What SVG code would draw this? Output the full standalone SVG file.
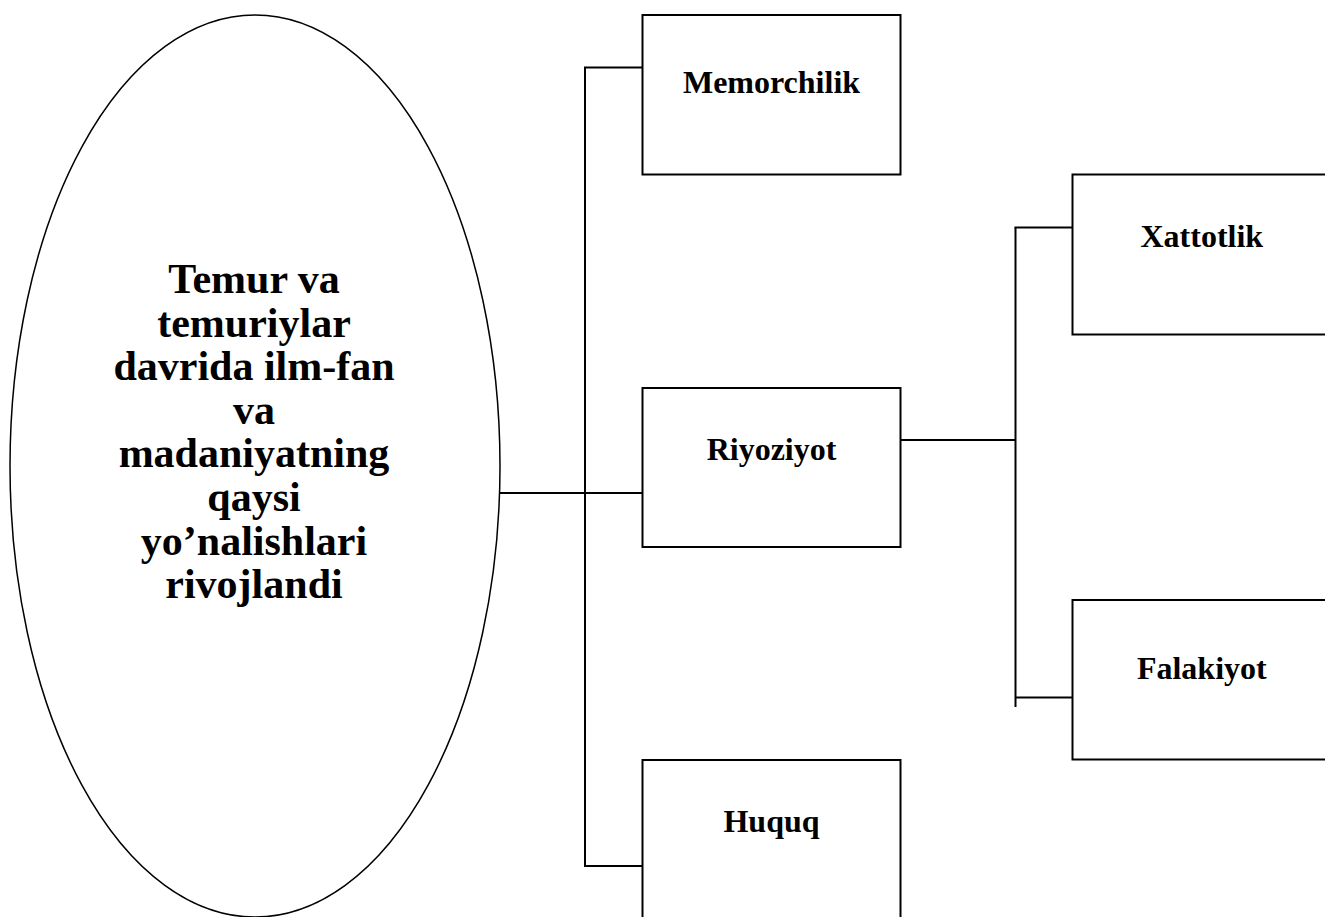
<svg xmlns="http://www.w3.org/2000/svg" width="1325" height="917" viewBox="0 0 1325 917">
<style>
.box{fill:#fff;stroke:#000;stroke-width:2}
.ell{fill:#fff;stroke:#000;stroke-width:1.5}
.lbl{font-family:"Liberation Serif","Times New Roman",serif;font-weight:bold;font-size:32px;text-anchor:middle;fill:#000}
.big{font-family:"Liberation Serif","Times New Roman",serif;font-weight:bold;font-size:42px;text-anchor:middle;fill:#000}
.con{fill:none;stroke:#000;stroke-width:2}
</style>
<rect width="1325" height="917" fill="#fff"/>
<g id="connectors">
<line class="con" x1="500" y1="493" x2="642.5" y2="493"/>
<line class="con" x1="585" y1="67.5" x2="585" y2="866"/>
<line class="con" x1="584" y1="67.5" x2="642.5" y2="67.5"/>
<line class="con" x1="584" y1="866" x2="642.5" y2="866"/>
<line class="con" x1="900.5" y1="440" x2="1015.5" y2="440"/>
<line class="con" x1="1015.5" y1="227.5" x2="1015.5" y2="707"/>
<line class="con" x1="1014.5" y1="227.5" x2="1072.5" y2="227.5"/>
<line class="con" x1="1015.5" y1="697.5" x2="1072.5" y2="697.5"/>
</g>
<g id="center">
<ellipse class="ell" cx="255" cy="466" rx="245" ry="451"/>
<text class="big" x="254" y="293">Temur va</text>
<text class="big" x="254" y="336.6">temuriylar</text>
<text class="big" x="254" y="380.2">davrida ilm-fan</text>
<text class="big" x="254" y="423.8">va</text>
<text class="big" x="254" y="467.4">madaniyatning</text>
<text class="big" x="254" y="511">qaysi</text>
<text class="big" x="254" y="554.6">yo’nalishlari</text>
<text class="big" x="254" y="598.2">rivojlandi</text>
</g>
<g id="memorchilik">
<rect class="box" x="642.5" y="15" width="258" height="159.5"/>
<text class="lbl" x="771.5" y="92.7">Memorchilik</text>
</g>
<g id="riyoziyot">
<rect class="box" x="642.5" y="388" width="258" height="159"/>
<text class="lbl" x="771.5" y="460">Riyoziyot</text>
</g>
<g id="huquq">
<rect class="box" x="642.5" y="760" width="258" height="200"/>
<text class="lbl" x="771.5" y="831.7">Huquq</text>
</g>
<g id="xattotlik">
<rect class="box" x="1072.5" y="174.5" width="260" height="160"/>
<text class="lbl" x="1201.8" y="247.3">Xattotlik</text>
</g>
<g id="falakiyot">
<rect class="box" x="1072.5" y="600" width="260" height="159.5"/>
<text class="lbl" x="1201.8" y="679.3">Falakiyot</text>
</g>
</svg>
